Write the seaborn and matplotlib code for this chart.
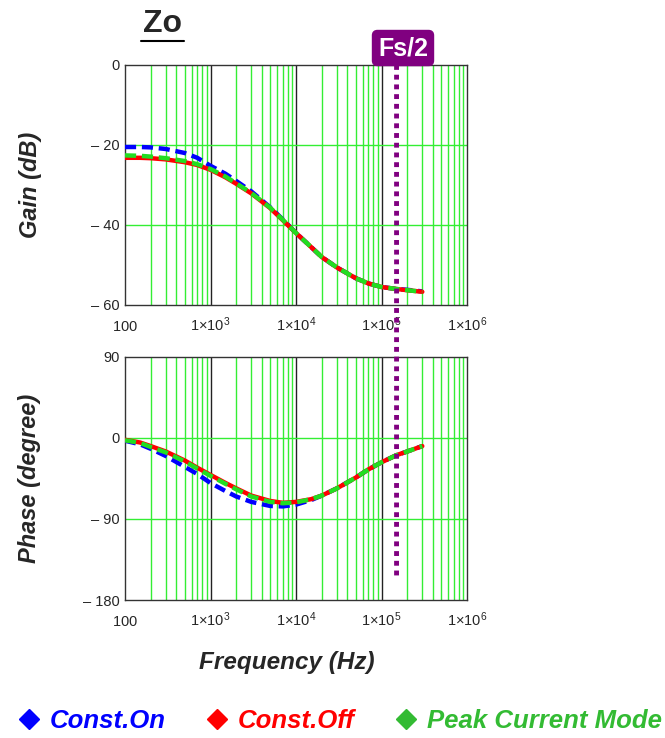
import numpy as np
import pandas as pd
import seaborn as sns
import matplotlib.pyplot as plt
from matplotlib.patches import ConnectionPatch
from matplotlib.lines import Line2D

# frequency points (Hz)
freq = [100, 150, 200, 300, 500, 700, 1e3, 1.5e3, 2e3, 3e3, 5e3, 7e3,
        1e4, 1.5e4, 2e4, 3e4, 5e4, 7e4, 1e5, 1.5e5, 2e5, 3e5]

modes = ['Const.On', 'Const.Off', 'Peak Current Mode']

gain_on = [-20.5, -20.5, -20.6, -21.0, -22.0, -23.2, -25.2, -27.2, -29.0, -31.6, -35.6, -38.6,
           -42.0, -45.5, -48.0, -50.6, -53.3, -54.6, -55.5, -56.0, -56.2, -56.6]
gain_off = [-23.2, -23.2, -23.3, -23.6, -24.3, -25.0, -26.2, -28.1, -29.7, -32.1, -35.8, -38.8,
            -42.0, -45.5, -48.0, -50.6, -53.3, -54.6, -55.5, -56.0, -56.3, -56.7]
gain_pcm = [-22.6, -22.7, -22.9, -23.3, -24.0, -24.8, -26.0, -27.9, -29.6, -32.0, -35.7, -38.7,
            -42.0, -45.5, -48.0, -50.6, -53.3, -54.6, -55.5, -56.0, -56.3, -56.7]

phase_on = [-3, -7, -12, -20, -32, -40, -50, -59, -65, -71, -75.5, -76,
            -74, -69, -64, -56, -44, -35, -27, -19, -15, -9]
phase_off = [-2, -5, -9, -15, -25, -33, -41, -50, -56, -64, -70, -72,
             -71, -68, -64, -56, -44, -35, -27, -19, -15, -9]
phase_pcm = [-2.5, -5.5, -10, -16, -26, -34, -42, -51, -57, -65, -71, -72.5,
             -71.5, -68, -64, -56, -44, -35, -27, -19, -15, -9]

fs_half = 1.5e5
xticks = [100, 1e3, 1e4, 1e5, 1e6]
xtick_labels = [r'$100$', r'$1{\times}10^{3}$', r'$1{\times}10^{4}$', r'$1{\times}10^{5}$', r'$1{\times}10^{6}$']
gain_ticks = [0, -20, -40, -60]
gain_tick_labels = ['0', '\u2013 20', '\u2013 40', '\u2013 60']
phase_ticks = [90, 0, -90, -180]
phase_tick_labels = ['90', '0', '\u2013 90', '\u2013 180']

colors = {'Const.On': '#0000ff', 'Const.Off': '#ff0000', 'Peak Current Mode': '#22dd22'}
dashes = {'Const.On': (2.5, 1.3), 'Const.Off': '', 'Peak Current Mode': (2.5, 1.3)}
legend_colors = ['#0000ff', '#ff0000', '#33bb33']

rows = []
for m, g, p in zip(modes, [gain_on, gain_off, gain_pcm], [phase_on, phase_off, phase_pcm]):
    for f, gv, pv in zip(freq, g, p):
        rows.append((m, f, gv, pv))
df = pd.DataFrame(rows, columns=['mode', 'freq', 'gain', 'phase'])

sns.set_style('white')
plt.rcParams['font.family'] = ['Liberation Sans', 'DejaVu Sans']
plt.rcParams['mathtext.fontset'] = 'custom'
plt.rcParams['mathtext.rm'] = 'Liberation Sans'
plt.rcParams['mathtext.it'] = 'Liberation Sans:italic'

fig = plt.figure(figsize=(6.65, 7.38), dpi=100)
ax1 = fig.add_axes([125 / 665, 1 - 305 / 738, 342 / 665, 240 / 738])
ax2 = fig.add_axes([125 / 665, 1 - 600 / 738, 342 / 665, 243 / 738])


def style_axes(ax, ylim, yticks, ylabels):
    ax.set_xscale('log')
    ax.set_xlim(100, 1e6)
    ax.set_ylim(*ylim)
    ax.set_xticks(xticks)
    ax.set_xticklabels(xtick_labels, fontsize=10.5, va='baseline')
    ax.set_yticks(yticks)
    ax.set_yticklabels(ylabels, fontsize=10.5)
    ax.tick_params(axis='x', length=0, pad=19)
    ax.tick_params(axis='y', length=0, pad=4)
    minor = [d * k for d in [100, 1e3, 1e4, 1e5] for k in range(2, 10)]
    ax.set_xticks(minor, minor=True)
    ax.set_xticklabels([], minor=True)
    ax.tick_params(which='minor', length=0)
    for v in minor:
        ax.axvline(v, color='#33ee33', lw=1, zorder=0)
    for v in [1e3, 1e4, 1e5]:
        ax.axvline(v, color='#222222', lw=1, zorder=0)
    for v in yticks[1:-1]:
        ax.axhline(v, color='#33ee33', lw=1, zorder=0)
    for s in ax.spines.values():
        s.set_color('#333333')
        s.set_linewidth(1)
    ax.set_xlabel('')
    ax.set_ylabel('')


for ax, col in [(ax1, 'gain'), (ax2, 'phase')]:
    sns.lineplot(data=df, x='freq', y=col, hue='mode', hue_order=modes, style='mode',
                 style_order=modes, palette=colors, dashes=dashes, linewidth=3.2,
                 legend=False, ax=ax, zorder=3)

style_axes(ax1, (-60, 0), gain_ticks, gain_tick_labels)
style_axes(ax2, (-180, 90), phase_ticks, phase_tick_labels)

# Fs/2 marker
con = ConnectionPatch(xyA=(fs_half, 0), coordsA=ax1.transData,
                      xyB=(fs_half, -155), coordsB=ax2.transData,
                      color='#800080', lw=3.5, linestyle=(0, (1, 1)), zorder=5)
con.set_capstyle('butt')
fig.add_artist(con)
fig.text(403 / 665, 1 - 48 / 738, 'Fs/2', ha='center', va='center', color='white',
         fontsize=18, fontweight='bold', zorder=6,
         bbox=dict(boxstyle='round,pad=0.22,rounding_size=0.2', fc='#800080', ec='#800080'))

# title and labels
fig.text(162 / 665, 1 - 24 / 738, 'Zo', ha='center', va='center', fontsize=23, fontweight='bold')
fig.add_artist(Line2D([141 / 665, 184 / 665], [1 - 41 / 738, 1 - 41 / 738], color='black', lw=1.5))
fig.text(30 / 665, 1 - 185 / 738, 'Gain (dB)', rotation=90, ha='center', va='center',
         fontsize=17, fontweight='bold', style='italic')
fig.text(30 / 665, 1 - 478 / 738, 'Phase (degree)', rotation=90, ha='center', va='center',
         fontsize=17, fontweight='bold', style='italic')
fig.text(287 / 665, 1 - 662 / 738, 'Frequency (Hz)', ha='center', va='center',
         fontsize=17.5, fontweight='bold', style='italic')

handles = [Line2D([], [], marker='D', color=c, ls='none', markersize=10) for c in legend_colors]
leg = fig.legend(handles, modes, loc='center', bbox_to_anchor=(0.51, 1 - 721 / 738), ncol=3,
                 frameon=False, handletextpad=0.3, columnspacing=1.5, handlelength=1.0,
                 borderaxespad=0, borderpad=0,
                 prop={'size': 18.5, 'weight': 'bold', 'style': 'italic'})
for t, c in zip(leg.get_texts(), legend_colors):
    t.set_color(c)

fig.savefig('out.png', dpi=100, facecolor='white')
